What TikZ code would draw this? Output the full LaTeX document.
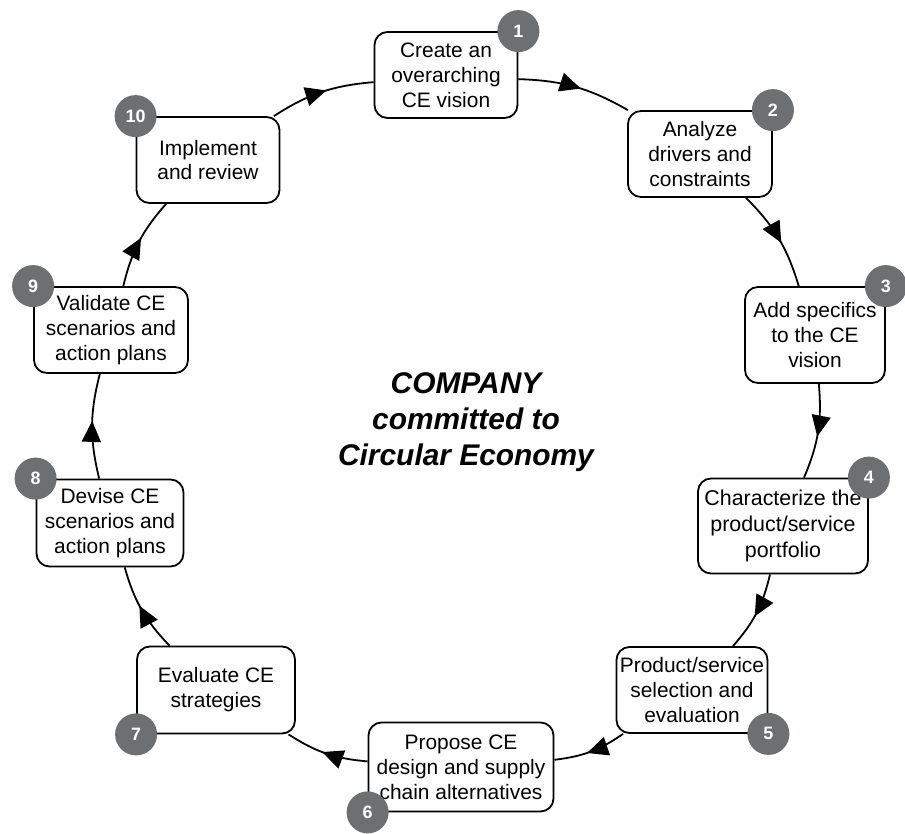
\documentclass[tikz,border=0pt]{standalone}
\usepackage{fontspec}
\setmainfont{Liberation Sans}
\usetikzlibrary{arrows.meta,decorations.markings}
\definecolor{badgegray}{RGB}{110,111,113}
\tikzset{
  stage/.style={draw, line width=1.8bp, rounded corners=13bp, fill=white,
    align=center, inner sep=0pt, font=\fontsize{21}{25}\selectfont},
  badge/.style={circle, fill=badgegray, text=white, inner sep=0pt,
    minimum size=42bp, font=\bfseries\fontsize{18}{18}\selectfont},
  flow/.style={line width=1.8bp, bend left=14,
    decoration={markings, mark=at position 0.55 with
      {\arrow{Triangle[length=21bp,width=19bp]}}},
    postaction={decorate}}
}
\begin{document}
\begin{tikzpicture}[x=1bp, y=1bp]
      \useasboundingbox (0,0) rectangle (905,-834);
      % stages round the circle
      \node[stage, minimum width=143bp, minimum height=86bp] (b1) at (446,-75) {Create an\\overarching\\CE vision};
      \node[stage, minimum width=144bp, minimum height=86bp] (b2) at (700,-154) {Analyze\\drivers and\\constraints};
      \node[stage, minimum width=140bp, minimum height=96bp] (b3) at (815,-335) {Add specifics\\to the CE\\vision};
      \node[stage, minimum width=170bp, minimum height=95bp, font=\fontsize{21.5}{26.5}\selectfont] (b4) at (783,-526) {Characterize the\\product/service\\portfolio};
      \node[stage, minimum width=151bp, minimum height=86bp] (b5) at (692,-690) {Product/service\\selection and\\evaluation};
      \node[stage, minimum width=185bp, minimum height=89bp] (b6) at (461,-767) {Propose CE\\design and supply\\chain alternatives};
      \node[stage, minimum width=158bp, minimum height=87bp] (b7) at (216,-690) {Evaluate CE\\strategies};
      \node[stage, minimum width=147bp, minimum height=87bp] (b8) at (110,-523) {Devise CE\\scenarios and\\action plans};
      \node[stage, minimum width=154bp, minimum height=86bp] (b9) at (111,-330) {Validate CE\\scenarios and\\action plans};
      \node[stage, minimum width=143bp, minimum height=86bp] (b10) at (208,-160) {Implement\\and review};
      \node[font=\bfseries\itshape\fontsize{30}{36}\selectfont, align=center] (title) at (466,-422) {COMPANY\\committed to\\Circular Economy};
      % the cycle
      \draw[flow] (b1) to (b2);
      \draw[flow] (b2) to (b3);
      \draw[flow] (b3) to (b4);
      \draw[flow] (b4) to (b5);
      \draw[flow] (b5) to (b6);
      \draw[flow] (b6) to (b7);
      \draw[flow] (b7) to (b8);
      \draw[flow] (b8) to (b9);
      \draw[flow] (b9) to (b10);
      \draw[flow] (b10) to (b1);
      % numbered badges
      \node[badge] (n1) at (b1.north east) {1};
      \node[badge] (n2) at (b2.north east) {2};
      \node[badge] (n3) at (b3.north east) {3};
      \node[badge] (n4) at (b4.north east) {4};
      \node[badge] (n5) at (b5.south east) {5};
      \node[badge] (n6) at (b6.south west) {6};
      \node[badge] (n7) at (b7.south west) {7};
      \node[badge] (n8) at (b8.north west) {8};
      \node[badge] (n9) at (b9.north west) {9};
      \node[badge] (n10) at (b10.north west) {10};
    \end{tikzpicture}
\end{document}
